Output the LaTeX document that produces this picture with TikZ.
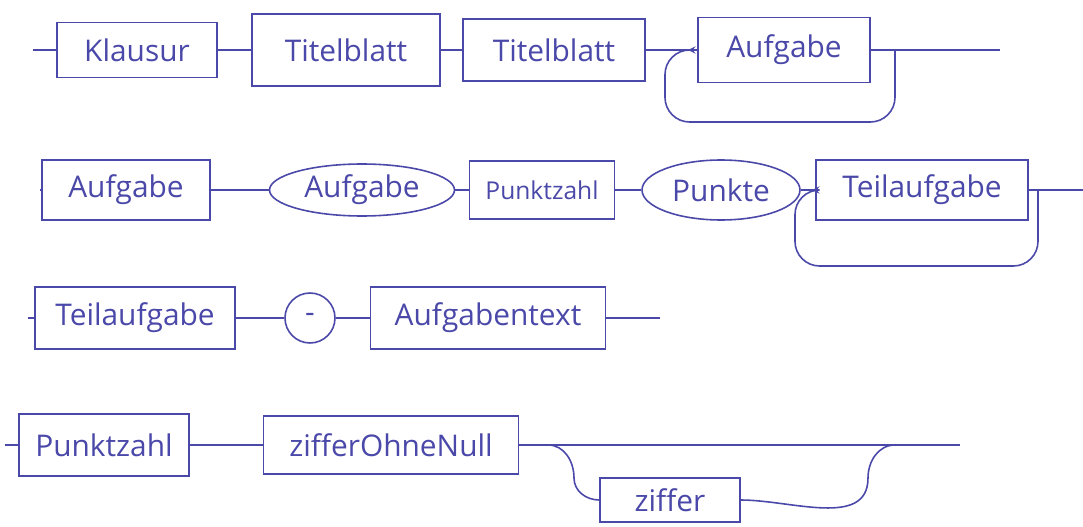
\documentclass[tikz,border=0pt]{standalone}
\usepackage{fontspec}
\setmainfont{Open Sans}
\usetikzlibrary{shapes.geometric}
\definecolor{ink}{RGB}{74,72,168}
\tikzset{
  sbox/.style={draw=ink,rectangle,inner sep=1pt,text=ink,font=\fontsize{17}{19}\selectfont},
  soval/.style={draw=ink,ellipse,inner sep=1pt,text=ink,font=\fontsize{17}{19}\selectfont},
  sloop/.style={draw=ink,rounded corners=14pt},
}
\begin{document}
\begin{tikzpicture}[x=0.02cm,y=-0.02cm,line width=0.9pt,ink]
\useasboundingbox (0,0) rectangle (1083,527);
\pgfmathsetmacro{\ra}{50}
\pgfmathsetmacro{\rb}{190}
\pgfmathsetmacro{\rc}{318}
\pgfmathsetmacro{\rd}{445}
\draw(137,\ra)node[sbox,minimum width=3.2cm,minimum height=1.1cm](kl){Klausur};
\draw(346,\ra)node[sbox,minimum width=3.76cm,minimum height=1.44cm](tb1){Titelblatt};
\draw(554,\ra)node[sbox,minimum width=3.64cm,minimum height=1.24cm](tb2){Titelblatt};
\draw(784,\ra)node[sbox,minimum width=3.44cm,minimum height=1.3cm](af1){Aufgabe};
\coordinate(s1) at (33,\ra);
\coordinate(af1in) at (688,\ra);
\coordinate(af1out) at (895,\ra);
\coordinate(e1) at (1000,\ra);
\draw(s1)--(kl.west);
\draw(kl.east)--(tb1.west);
\draw(tb1.east)--(tb2.west);
\draw(tb2.east)--(af1.west);
\draw(af1.east)--(e1);
\draw[sloop,-stealth](af1out)--(895,122)--(665,122)--(665,\ra)--(af1in);
\draw(126,\rb)node[sbox,minimum width=3.36cm,minimum height=1.2cm](af2){Aufgabe};
\draw(362,\rb)node[soval,minimum width=3.7cm,minimum height=1.04cm](ov1){Aufgabe};
\draw(542,\rb)node[sbox,minimum width=2.9cm,minimum height=1.16cm,font=\fontsize{14}{16}\selectfont](pz1){Punktzahl};
\draw(721,\rb)node[soval,minimum width=3.16cm,minimum height=1.2cm](ov2){Punkte};
\draw(922,\rb)node[sbox,minimum width=4.24cm,minimum height=1.2cm](ta1){Teilaufgabe};
\coordinate(s2) at (40,\rb);
\coordinate(ta1in) at (812,\rb);
\coordinate(ta1out) at (1038,\rb);
\coordinate(e2) at (1083,\rb);
\draw(s2)--(af2.west);
\draw(af2.east)--(ov1.west);
\draw(ov1.east)--(pz1.west);
\draw(pz1.east)--(ov2.west);
\draw(ov2.east)--(ta1.west);
\draw(ta1.east)--(e2);
\draw[sloop,-stealth](ta1out)--(1038,266)--(795,266)--(795,\rb)--(ta1in);
\draw(135,\rc)node[sbox,minimum width=4cm,minimum height=1.24cm](ta2){Teilaufgabe};
\draw(310,\rc)node[draw=ink,circle,minimum size=1cm,inner sep=0pt,text=ink,font=\fontsize{17}{19}\selectfont](ci){-};
\draw(488,\rc)node[sbox,minimum width=4.7cm,minimum height=1.24cm](at){Aufgabentext};
\coordinate(s3) at (28,\rc);
\coordinate(e3) at (660,\rc);
\draw(s3)--(ta2.west);
\draw(ta2.east)--(ci.west);
\draw(ci.east)--(at.west);
\draw(at.east)--(e3);
\draw(104,\rd)node[sbox,minimum width=3.4cm,minimum height=1.24cm](pz2){Punktzahl};
\draw(391,\rd)node[sbox,minimum width=5.1cm,minimum height=1.16cm](zo){zifferOhneNull};
\draw(670,500)node[sbox,minimum width=2.8cm,minimum height=0.88cm](zf){ziffer};
\coordinate(s4) at (5,\rd);
\coordinate(b1) at (548,\rd);
\coordinate(b2) at (895,\rd);
\coordinate(e4) at (960,\rd);
\draw(s4)--(pz2.west);
\draw(pz2.east)--(zo.west);
\draw(zo.east)--(e4);
\draw(b1) to[out=0,in=90](574,478) to[out=-90,in=180](zf.west);
\draw(zf.east) to[out=0,in=-90](868,478) to[out=90,in=180](b2);
\end{tikzpicture}
\end{document}
